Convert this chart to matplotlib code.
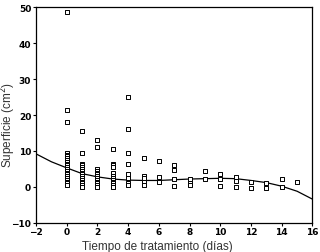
import numpy as np
import matplotlib
matplotlib.use('Agg')
import matplotlib.pyplot as plt

# Scatter data (days, surface in cm2)
day_0 = [48.5, 21.5, 18, 9.5, 9, 8.5, 8, 7.5, 7, 6.5, 6, 5.5, 5, 4.5, 4, 3.5, 3, 2.5, 2, 1.5, 1, 0.5]
day_1 = [15.5, 9.5, 6.5, 6, 5.5, 5, 4.5, 4, 3.5, 3, 2.5, 2, 1.5, 1, 0.5, 0]
day_2 = [13, 11, 5, 4.5, 4, 3.5, 3, 2.5, 2, 1.5, 1, 0.5, 0]
day_3 = [10.5, 6.5, 6, 5.5, 4, 3, 2.5, 2, 1.5, 1, 0.5, 0]
day_4 = [25, 16, 9.5, 6.5, 3.5, 2.5, 1, 0.5]
day_5 = [8, 3, 2.5, 1.5, 0.5]
day_6 = [7.3, 2.7, 1.3]
day_7 = [6, 4.8, 2.1, 0.2]
day_8 = [2.1, 1.2, 0.5]
day_9 = [4.3, 2.3]
day_10 = [3.5, 2.1, 0.2]
day_11 = [2.8, 1.6, 0]
day_12 = [1.3, -0.2]
day_13 = [1.0, -0.2]
day_14 = [2.1, -0.1]
day_15 = [1.4]
all_days = [day_0, day_1, day_2, day_3, day_4, day_5, day_6, day_7, day_8,
            day_9, day_10, day_11, day_12, day_13, day_14, day_15]

# Fitted trend line, read at integer days
curve_x = list(range(-2, 17))
curve_y = [9.2, 7.0, 5.3, 3.7, 2.8, 2.2, 1.9, 1.8, 1.8, 2.0, 2.2, 2.3, 2.4, 2.3, 1.8, 1.2, 0.2, -1.2, -3.4]

xticks = [-2, 0, 2, 4, 6, 8, 10, 12, 14, 16]
yticks = [-10, 0, 10, 20, 30, 40, 50]

fig = plt.figure(figsize=(3.2, 2.53), dpi=100)
ax = fig.add_axes([0.1125, 0.115, 0.864, 0.853])

for d, vals in enumerate(all_days):
    ax.scatter([d] * len(vals), vals, marker='s', s=5, facecolors='white',
               edgecolors='black', linewidths=0.7, zorder=3)

ax.plot(curve_x, curve_y, color='black', linewidth=0.9, zorder=2)

ax.set_xlim(-2, 16)
ax.set_ylim(-10, 50)
ax.set_xticks(xticks)
ax.set_yticks(yticks)
ax.tick_params(direction='out', length=2.5, width=0.8, labelsize=6.5, pad=1)
ax.tick_params(axis='x', pad=0.5)
for lab in ax.get_xticklabels() + ax.get_yticklabels():
    lab.set_fontweight('bold')
for sp in ax.spines.values():
    sp.set_linewidth(0.9)

ax.set_xlabel('Tiempo de tratamiento (días)', fontsize=8.5, family='Liberation Sans',
              color='#333333')
ax.set_ylabel('Superficie (cm$^2$)', fontsize=8.5, family='Liberation Sans',
              color='#333333')
ax.xaxis.set_label_coords(0.44, -0.107)
ax.yaxis.set_label_coords(-0.1, 0.46)
ax.xaxis.label.set_va('center')
ax.yaxis.label.set_va('center')

fig.savefig('out.png', dpi=100)
